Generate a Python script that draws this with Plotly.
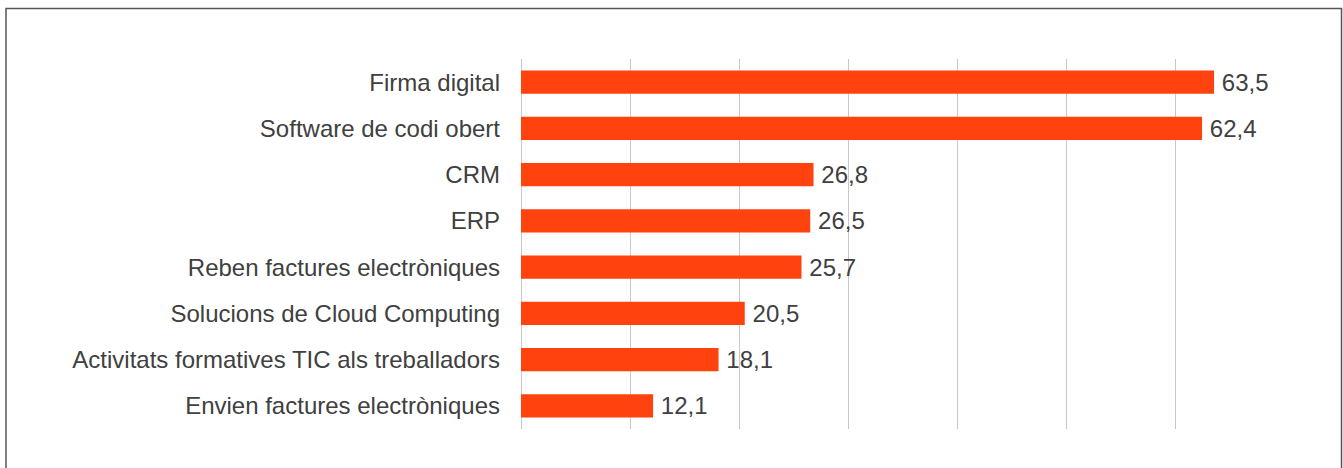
import plotly.graph_objects as go

categories = [
    "Firma digital",
    "Software de codi obert",
    "CRM",
    "ERP",
    "Reben factures electròniques",
    "Solucions de Cloud Computing",
    "Activitats formatives TIC als treballadors",
    "Envien factures electròniques",
]
values = [63.5, 62.4, 26.8, 26.5, 25.7, 20.5, 18.1, 12.1]

W, H = 1343, 468
L, R, T, B = 521, 1285, 59, 429

fig = go.Figure(go.Bar(
    x=values, y=categories, orientation="h",
    marker=dict(color="#FF420E", line=dict(width=0)),
    width=0.5,
    texttemplate="\u2009%{x:.1f}", textposition="outside",
    constraintext="none",
    textfont=dict(size=24, color="#404040", family="Liberation Sans"),
    cliponaxis=False,
))

def px(p):
    return (p - L) / (R - L)

def py(p):
    return (B - p) / (B - T)

fig.update_layout(
    width=W, height=H,
    margin=dict(l=L, r=W - R, t=T, b=H - B),
    paper_bgcolor="white", plot_bgcolor="white",
    separators=",.",
    showlegend=False,
    font=dict(family="Liberation Sans", size=24, color="#404040"),
    xaxis=dict(range=[0, 70], dtick=10, showgrid=True, gridcolor="#c8c8c8", gridwidth=1,
               showticklabels=False, zeroline=True, zerolinecolor="#c8c8c8", zerolinewidth=1,
               showline=False, fixedrange=True),
    yaxis=dict(autorange="reversed", showgrid=False, ticks="", ticklabelstandoff=20,
               tickfont=dict(size=24, color="#404040"), showline=False, fixedrange=True),
    shapes=[dict(type="rect", xref="paper", yref="paper",
                 x0=px(6), x1=px(1341.5), y0=py(H + 20), y1=py(8.5),
                 line=dict(color="#555555", width=1.5), layer="below")],
)

fig.write_html("out.html", config={"displayModeBar": False},
               post_script="document.body.style.margin='0px';document.body.style.overflow='hidden';")
